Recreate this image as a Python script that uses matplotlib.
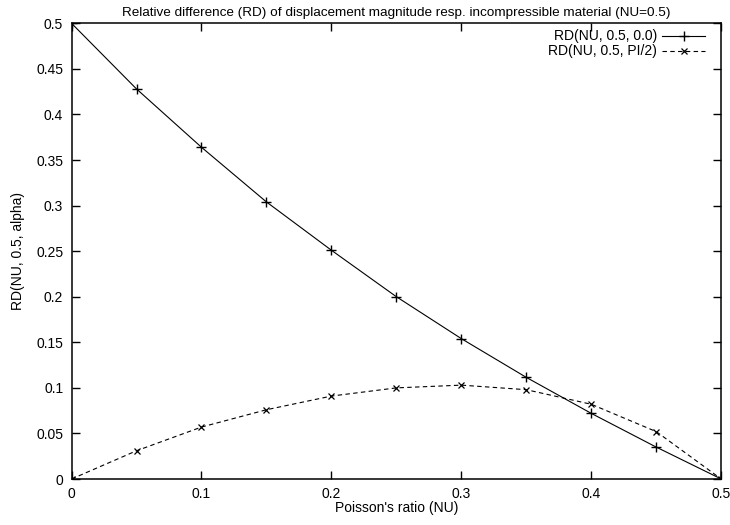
import matplotlib
matplotlib.use('Agg')
from matplotlib import pyplot as plt
from matplotlib.lines import Line2D
from matplotlib.ticker import FuncFormatter

# Poisson's ratio samples
nu = [0.0, 0.05, 0.1, 0.15, 0.2, 0.25, 0.3, 0.35, 0.4, 0.45, 0.5]
# RD(NU, 0.5, 0.0)
rd_alpha0 = [0.5, 0.428, 0.364, 0.304, 0.251, 0.200, 0.154, 0.1115, 0.072, 0.035, 0.0]
# RD(NU, 0.5, PI/2)
rd_alpha_pi2 = [0.0, 0.031, 0.057, 0.076, 0.091, 0.100, 0.103, 0.098, 0.082, 0.052, 0.0]

labels = ['RD(NU, 0.5, 0.0)', 'RD(NU, 0.5, PI/2)']
xticks = [0, 0.1, 0.2, 0.3, 0.4, 0.5]
yticks = [0, 0.05, 0.1, 0.15, 0.2, 0.25, 0.3, 0.35, 0.4, 0.45, 0.5]

plt.rcParams['font.family'] = ['Liberation Sans', 'DejaVu Sans']
plt.rcParams['font.size'] = 10

fig = plt.figure(figsize=(7.3, 5.25), dpi=100)
ax = fig.add_axes([0.098, 0.0876, 0.89, 0.868])

lw = 0.8
plus_style = dict(linestyle='-', marker='+', markersize=7, markeredgewidth=1.0)
cross_style = dict(linestyle=(0, (4, 3)), marker='x', markersize=5, markeredgewidth=0.9)

ax.plot(nu, rd_alpha0, color='black', linewidth=lw, **plus_style)
ax.plot(nu, rd_alpha_pi2, color='black', linewidth=lw, **cross_style)

ax.set_xlim(0, 0.5)
ax.set_ylim(0, 0.5)
ax.set_xticks(xticks)
ax.set_yticks(yticks)
fmt = FuncFormatter(lambda v, p: f'{v:g}')
ax.xaxis.set_major_formatter(fmt)
ax.yaxis.set_major_formatter(fmt)
ax.tick_params(direction='in', length=6, width=1.0, top=True, right=True,
               labelsize=10, pad=6)
for s in ax.spines.values():
    s.set_linewidth(1.1)

ax.set_xlabel("Poisson's ratio (NU)", fontsize=10, labelpad=0)
ax.set_ylabel('RD(NU, 0.5, alpha)', fontsize=10, labelpad=8)
ax.set_title('Relative difference (RD) of displacement magnitude resp. '
             'incompressible material (NU=0.5)', fontsize=9.7, pad=5)

# gnuplot-style key: right-aligned text followed by sample
key_rows = [0.973, 0.939]
styles = [plus_style, cross_style]
for lab, yk, st in zip(labels, key_rows, styles):
    ax.text(0.901, yk, lab, transform=ax.transAxes, ha='right', va='center',
            fontsize=10)
    ax.add_line(Line2D([0.909, 0.975], [yk, yk], transform=ax.transAxes,
                       color='black', linewidth=lw, linestyle=st['linestyle']))
    ax.add_line(Line2D([0.942], [yk], transform=ax.transAxes, color='black',
                       marker=st['marker'], markersize=st['markersize'],
                       markeredgewidth=st['markeredgewidth'], linestyle='none'))

fig.savefig('out.png', dpi=100, facecolor='white')
